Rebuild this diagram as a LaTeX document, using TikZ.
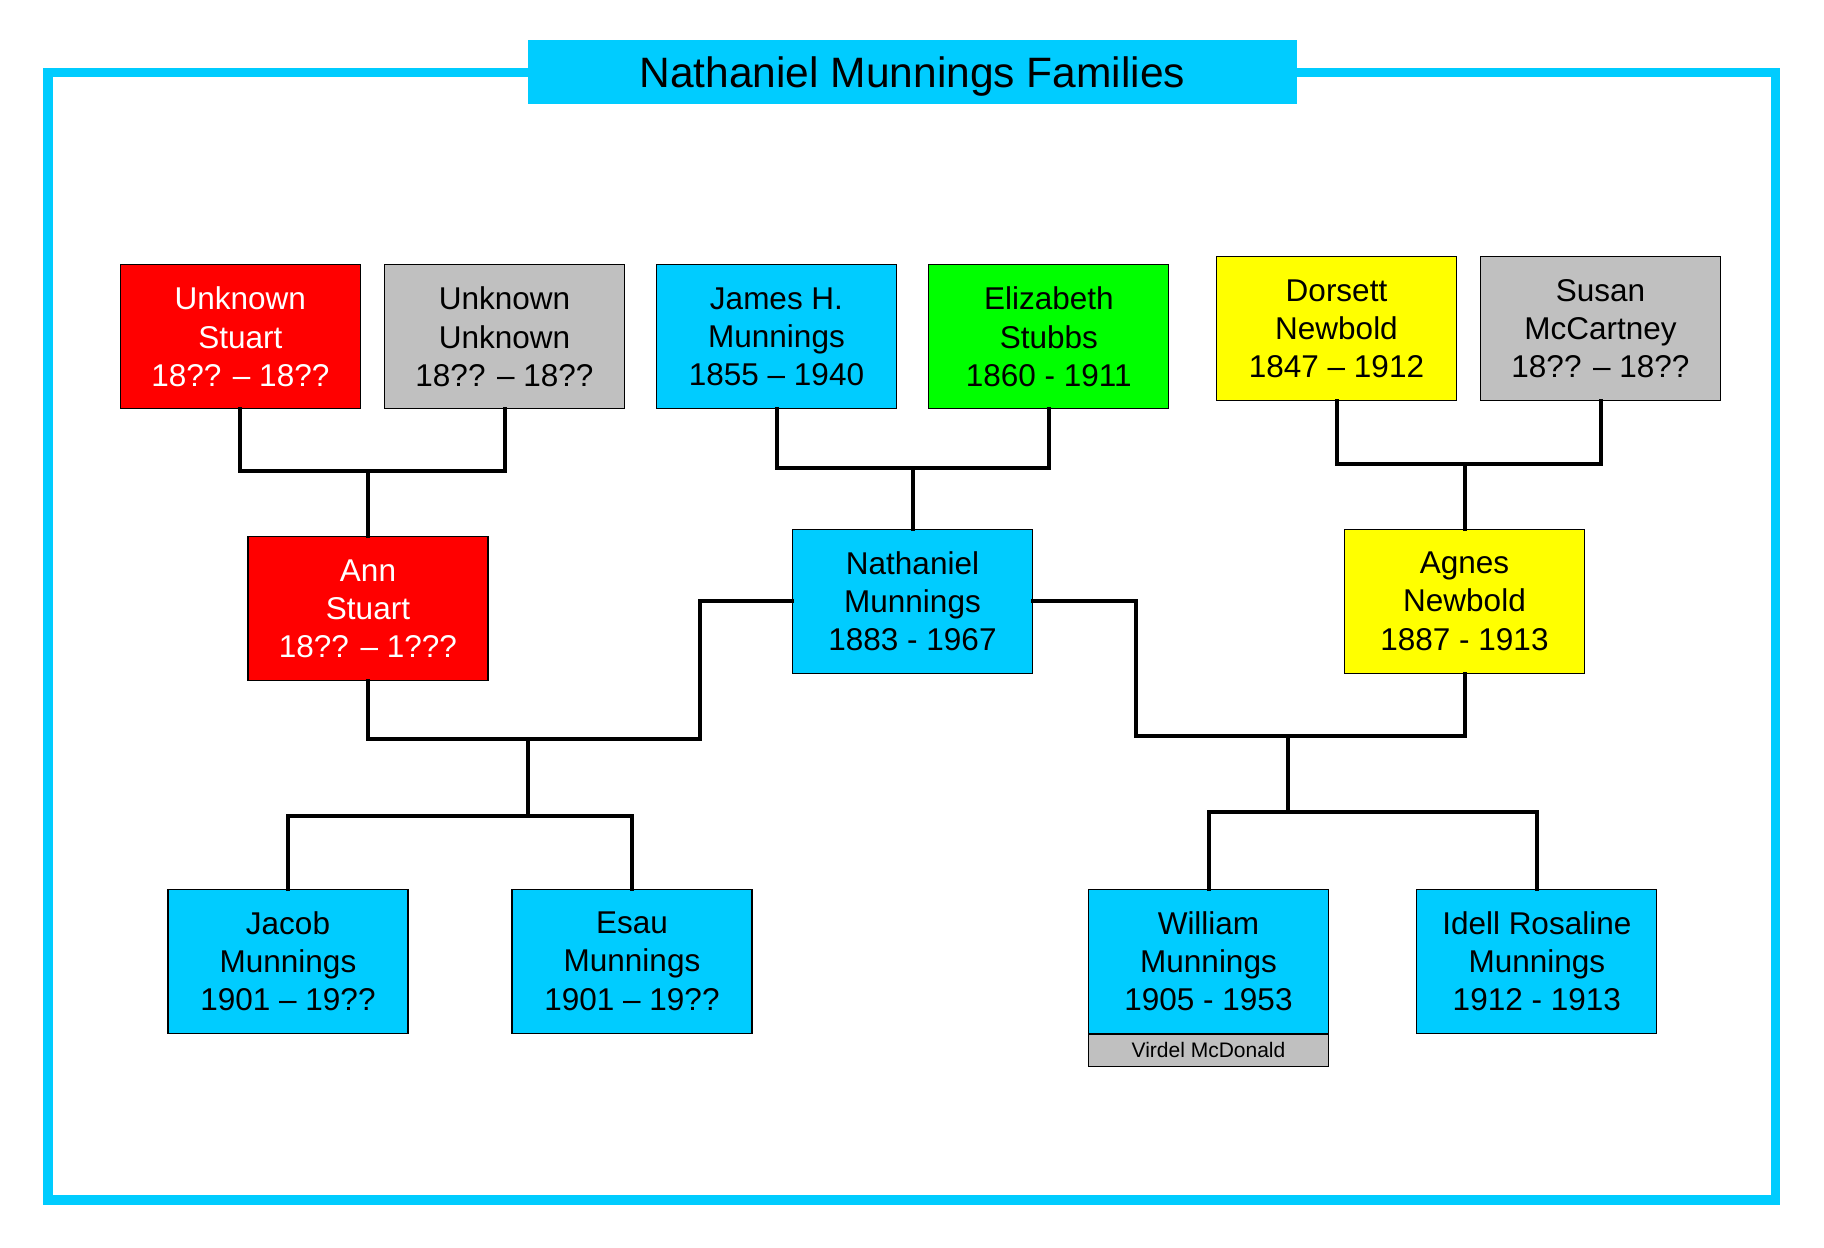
\documentclass[tikz,border=0pt]{standalone}
\usepackage{fontspec}
\setmainfont{Liberation Sans}
\definecolor{skyc}{HTML}{00CCFF}
\definecolor{redc}{HTML}{FF0000}
\definecolor{grayc}{HTML}{C0C0C0}
\definecolor{greenc}{HTML}{00FF00}
\definecolor{yellowc}{HTML}{FFFF00}
\begin{document}
\begin{tikzpicture}[x=1pt,y=-1pt,
  person/.style={draw=black, line width=1.2pt, minimum width=240pt, minimum height=144pt,
    inner sep=0pt, align=center, font=\fontsize{31.5}{38.3}\selectfont},
  conn/.style={draw=black, line width=4pt, line join=miter, line cap=rect},
  spouse/.style={draw=black, line width=1.2pt, fill=grayc, minimum width=240pt, minimum height=32pt,
    inner sep=0pt, font=\fontsize{21}{24}\selectfont}
]
\useasboundingbox (0,0) rectangle (1824,1248);
\fill[white] (0,0) rectangle (1824,1248);
% frame
\draw[skyc, line width=9.4pt] (48,72.2) rectangle (1775.5,1200);
% title
\fill[skyc] (528,40) rectangle (1296.5,103.7);
\node[inner sep=0pt, text height=30.4pt, text depth=0pt,
  font=\fontsize{42.5}{50}\selectfont] (title) at (912.25,72.5) {Nathaniel Munnings Families};

% people
\node[person, fill=redc, text=white] (us) at (240.3,336.8) {Unknown\\Stuart\\18?? – 18??};
\node[person, fill=grayc] (uu) at (504.5,336.8) {Unknown\\Unknown\\18?? – 18??};
\node[person, fill=skyc] (james) at (776.5,336.8) {James H.\\Munnings\\1855 – 1940};
\node[person, fill=greenc] (eliz) at (1048.8,336.8) {Elizabeth\\Stubbs\\1860 - 1911};
\node[person, fill=yellowc] (dors) at (1336.5,328.8) {Dorsett\\Newbold\\1847 – 1912};
\node[person, fill=grayc] (susan) at (1600.5,328.8) {Susan\\McCartney\\18?? – 18??};
\node[person, fill=redc, text=white] (ann) at (368,608.8) {Ann\\Stuart\\18?? – 1???};
\node[person, fill=skyc] (nat) at (912.5,601.1) {Nathaniel\\Munnings\\1883 - 1967};
\node[person, fill=yellowc] (agnes) at (1464.5,601.1) {Agnes\\Newbold\\1887 - 1913};
\node[person, fill=skyc] (jacob) at (288,961.2) {Jacob\\Munnings\\1901 – 19??};
\node[person, fill=skyc] (esau) at (632,961.2) {Esau\\Munnings\\1901 – 19??};
\node[person, fill=skyc] (will) at (1208.5,961.2) {William\\Munnings\\1905 - 1953};
\node[person, fill=skyc] (idell) at (1536.8,961.2) {Idell Rosaline\\Munnings\\1912 - 1913};
\node[spouse, anchor=north] (virdel) at (will.south) {Virdel McDonald};

% junction coordinates
\coordinate (j1) at (368,470.7);
\coordinate (j2) at (912.5,467.7);
\coordinate (j3) at (1464.5,463.7);
\coordinate (m1) at (528,739);
\coordinate (c1) at (700,739);
\coordinate (m2) at (528,816);
\coordinate (c2) at (1136,736.3);
\coordinate (m3) at (1288,736.3);
\coordinate (m4) at (1288,812);

% connectors
\draw[conn] (us.south) |- (j1) -| (uu.south);
\draw[conn] (j1) -- (ann.north);
\draw[conn] (james.south) |- (j2) -| (eliz.south);
\draw[conn] (j2) -- (nat.north);
\draw[conn] (dors.south) |- (j3) -| (susan.south);
\draw[conn] (j3) -- (agnes.north);
\draw[conn] (ann.south) |- (c1) |- (nat.west);
\draw[conn] (m1) -- (m2);
\draw[conn] (jacob.north) |- (m2) -| (esau.north);
\draw[conn] (nat.east) -| (c2) -| (agnes.south);
\draw[conn] (m3) -- (m4);
\draw[conn] (will.north) |- (m4) -| (idell.north);
\end{tikzpicture}
\end{document}
